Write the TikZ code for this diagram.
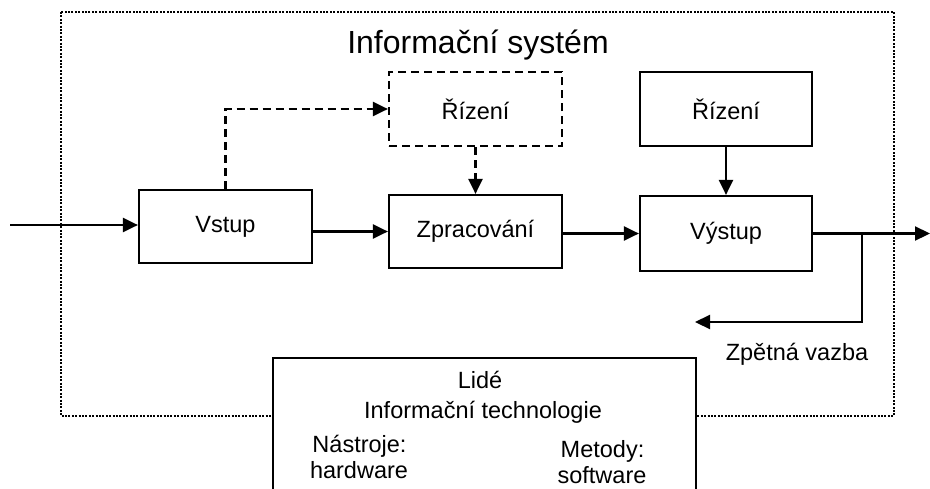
\documentclass[tikz,border=0pt]{standalone}
\usepackage{fontspec}
\setmainfont{Liberation Sans}
\usetikzlibrary{arrows.meta}
\tikzset{
  boxstyle/.style={draw, line width=2.2pt, minimum width=173pt, minimum height=73pt, inner sep=0pt, font=\fontsize{23.5}{28}\selectfont},
  dashbox/.style={boxstyle, dash pattern=on 8pt off 5pt},
  conn/.style={line width=2.2pt, -{Triangle[length=15pt,width=14pt]}},
  dconn/.style={conn, dash pattern=on 8pt off 5pt},
  frame/.style={line width=2pt, dash pattern=on 2pt off 1.4pt},
  txt/.style={font=\fontsize{23.5}{28}\selectfont, inner sep=0pt},
}
\begin{document}
\begin{tikzpicture}[x=1pt,y=-1pt]
\useasboundingbox (0,0) rectangle (930,488);
\clip (0,0) rectangle (930,488);
% dotted frame
\draw[frame] (61,12) rectangle (894,416);
\node[font=\fontsize{32}{38}\selectfont, inner sep=0pt, anchor=base] (title) at (478,53) {Informační systém};
% boxes
\node[boxstyle] (vstup) at (225.5,226.5) {Vstup};
\node[boxstyle] (zpr) at (475.5,231.5) {Zpracování};
\node[dashbox, minimum height=74pt] (dr) at (475.5,109) {Řízení};
\node[boxstyle, minimum width=172pt, minimum height=74pt] (riz) at (726,109) {Řízení};
\node[boxstyle, minimum width=172pt, minimum height=75pt] (vys) at (726,233.5) {Výstup};
% connectors
\coordinate (in) at (10,225);
\draw[conn] (in) -- (in -| vstup.west);
\draw[conn] (zpr.west -| vstup.east) -- (zpr.west);
\draw[conn] (vys.west -| zpr.east) -- (vys.west);
\draw[dconn] (vstup.north) |- (dr.west);
\draw[dconn] (dr.south) -- (zpr.north);
\draw[conn] (riz.south) -- (vys.north);
\coordinate (out) at (930,233.5);
\draw[conn] (vys.east) -- (out);
\coordinate (fb) at (862,233.5);
\coordinate (fbend) at (695,322);
\draw[conn] (fb) |- (fbend);
\node[txt, anchor=base] (zv) at (797,360) {Zpětná vazba};
% bottom box
\node[draw, fill=white, line width=2.2pt, minimum width=423pt, minimum height=142pt, inner sep=0pt] (it) at (484.5,429) {};
\node[txt, anchor=base] (lide) at (480,388) {Lidé};
\node[txt, anchor=base] (tech) at (483,418) {Informační technologie};
\node[txt, anchor=base] (nas) at (359.5,452) {Nástroje:};
\node[txt, anchor=base] (hw) at (359,478) {hardware};
\node[txt, anchor=base] (met) at (602.5,457) {Metody:};
\node[txt, anchor=base] (sw) at (602,483) {software};
\end{tikzpicture}
\end{document}
